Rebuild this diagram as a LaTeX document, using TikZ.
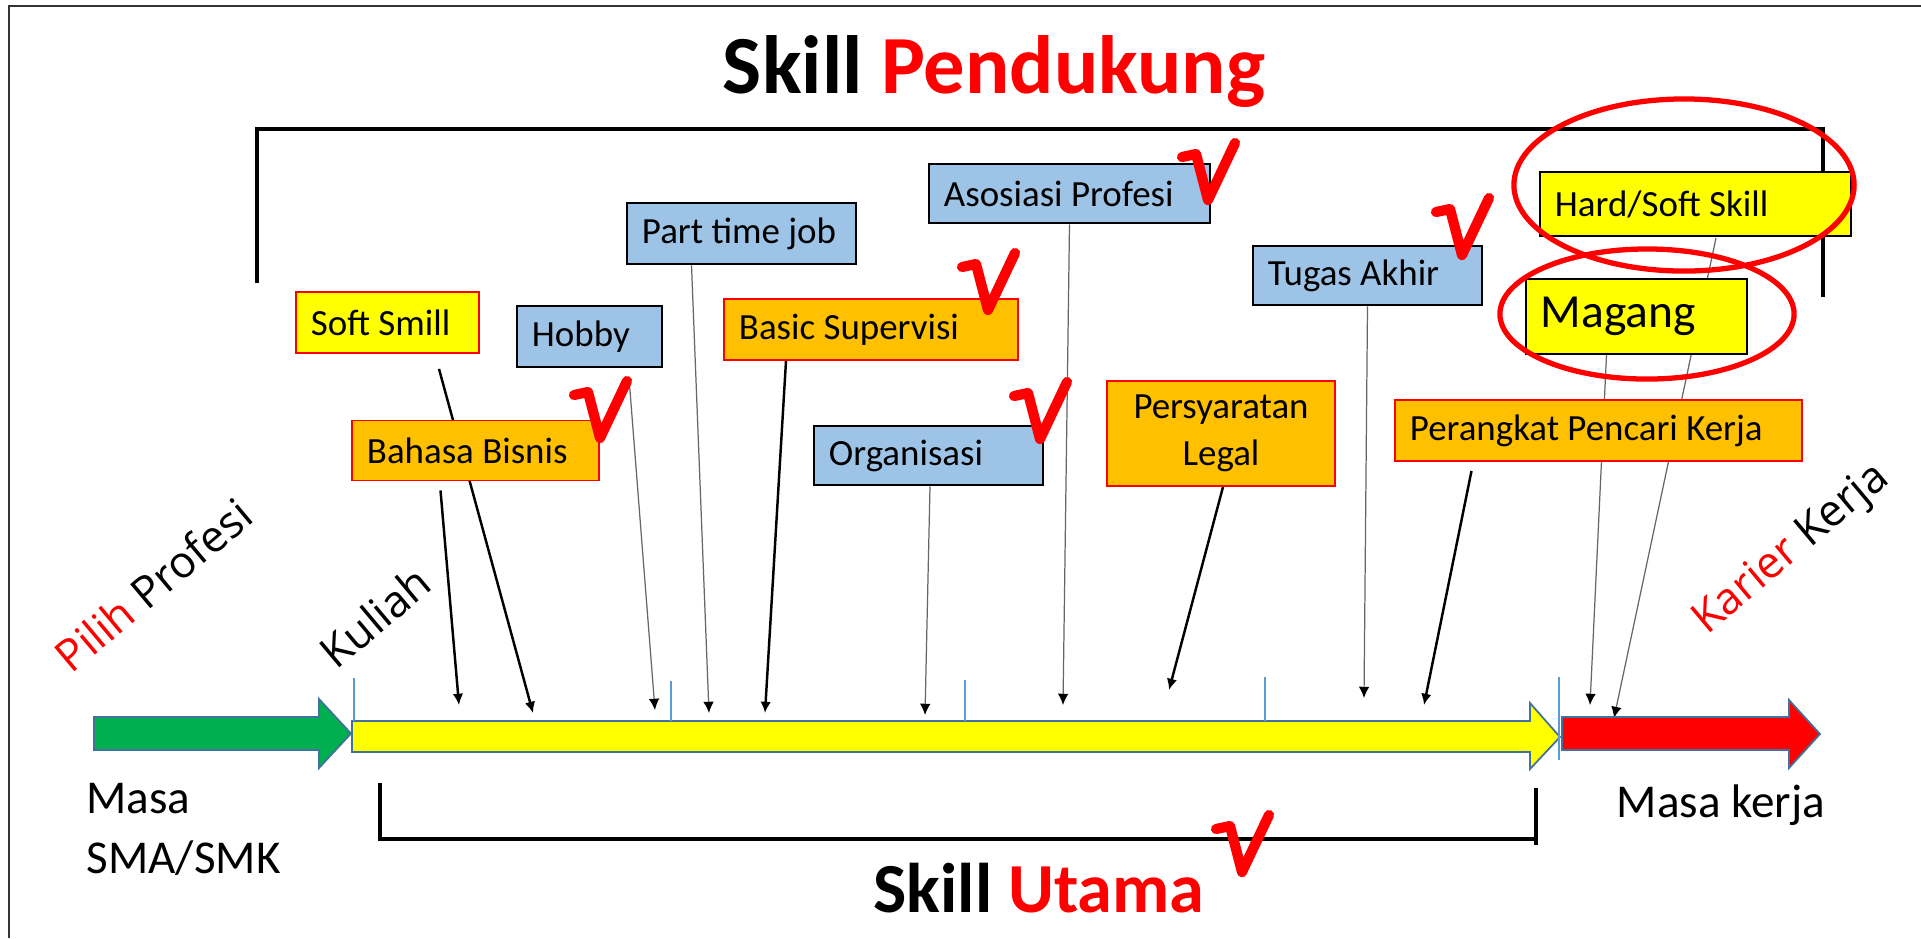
\documentclass[tikz,border=0pt]{standalone}
\usepackage{fontspec}
\setmainfont{Carlito}
\newfontfamily\miring{Open Sans}
\usepackage{xcolor}
\usetikzlibrary{arrows.meta, positioning, calc, backgrounds}

\definecolor{biru}{HTML}{9DC3E6}
\definecolor{oranye}{HTML}{FFC000}
\definecolor{kuning}{HTML}{FFFF00}
\definecolor{hijau}{HTML}{00B050}
\definecolor{merah}{HTML}{FF0000}
\definecolor{tepi}{HTML}{41719C}
\definecolor{garisbiru}{HTML}{5B9BD5}

\tikzset{
  kotak/.style={draw, minimum height=0.61cm, inner xsep=0.15cm, inner ysep=0pt, align=flush left, font=\fontsize{10.5}{13.4}\selectfont},
  kotakbiru/.style={kotak, fill=biru, draw=black, line width=0.7pt},
  kotakoranye/.style={kotak, fill=oranye, draw=merah, line width=0.5pt},
  kotakkuning/.style={kotak, fill=kuning, draw=merah, line width=0.5pt},
  panah/.style={-{Latex[length=3.2pt,width=3pt]}, line width=0.7pt},
  panahtipis/.style={-{Latex[length=3.2pt,width=3pt,color=black]}, line width=0.35pt, draw=black!60},
  kurung/.style={line width=1.1pt},
  fase/.style={draw=tepi, line width=0.5pt},
  miring/.style={rotate=40, font=\miring\fontsize{12.5}{15}\selectfont},
  cek/.pic={\draw[merah, line width=2.9pt, line join=round, line cap=round] (-26,-46) -- (-12,-49) -- (0,-3) -- (27,-60);}
}

\begin{document}
\begin{tikzpicture}[x=0.01cm, y=-0.01cm]
    \useasboundingbox (0,0) rectangle (1921,938);
    \draw[black!80, line width=0.6pt] (9,938) -- (9,6) -- (1921,6);

    % judul
    \node[anchor=base, font=\bfseries\fontsize{23.5}{28}\selectfont] (judul) at (994,93) {Skill \textcolor{merah}{Pendukung}};
    \node[anchor=base, font=\bfseries\fontsize{20}{24}\selectfont] (utama) at (1039,912) {Skill \textcolor{merah}{Utama}};

    % kotak skill pendukung
    \node[kotakkuning, text width=1.53cm] (soft) at (387.5,322.5) {Soft Smill};
    \node[kotakbiru, text width=1.15cm] (hobby) at (589.5,336.5) {Hobby};
    \node[kotakbiru, text width=1.99cm] (parttime) at (741.5,233.5) {Part time job};
    \node[kotakoranye, text width=2.64cm] (basic) at (871,329.5) {Basic Supervisi};
    \node[kotakoranye, text width=2.17cm, minimum height=0.60cm] (bahasa) at (475.5,450.5) {Bahasa Bisnis};
    \node[kotakbiru, text width=1.99cm, minimum height=0.59cm] (organisasi) at (928.5,455.5) {Organisasi};
    \node[kotakbiru, text width=2.51cm, minimum height=0.59cm] (asosiasi) at (1069.5,193.5) {Asosiasi Profesi};
    \node[kotakbiru, text width=1.99cm, minimum height=0.59cm] (tugas) at (1367.5,275.5) {Tugas Akhir};
    \node[kotakoranye, text width=1.98cm, minimum height=1.05cm, align=center] (syarat) at (1221,433.5) {Persyaratan\\Legal};
    \node[kotakoranye, text width=3.77cm] (perangkat) at (1598.5,430.5) {Perangkat Pencari Kerja};
    \node[kotakkuning, draw=black, text width=2.81cm, minimum height=0.64cm] (hardsoft) at (1695.5,204) {Hard/Soft Skill};
    \node[kotakkuning, draw=black, text width=1.91cm, minimum height=0.75cm, font=\fontsize{13.5}{16}\selectfont] (magang) at (1636.5,316.5) {Magang};

    % fase
    \draw[fase, fill=hijau] (94,717) -- (319,717) -- (319,699) -- (351,733.5) -- (319,768) -- (319,750) -- (94,750) -- cycle;
    \draw[fase, fill=kuning] (352,721) -- (1530,721) -- (1530,703) -- (1560,737) -- (1530,769) -- (1530,752) -- (352,752) -- cycle;
    \draw[fase, fill=merah] (1562,717) -- (1789,717) -- (1789,700) -- (1820,734) -- (1789,768) -- (1789,750) -- (1562,750) -- cycle;
    \draw[garisbiru, line width=0.4pt] (354,678) -- (354,721) (671,681) -- (671,721) (965,680) -- (965,721) (1265,677) -- (1265,721) (1559,677) -- (1559,760);

    \node[miring] (pilih) at (153,585) {\textcolor{merah}{Pilih} Profesi};
    \node[miring] (kuliah) at (375,617) {Kuliah};
    \node[miring] (karier) at (1792,550) {\textcolor{merah}{Karier} Kerja};
    \node[anchor=north west, inner sep=0pt, align=left, font=\fontsize{13.4}{17}\selectfont] (sma) at (86,783) {Masa\\SMA/SMK};
    \node[anchor=base west, inner sep=0pt, font=\fontsize{13.4}{17}\selectfont] (kerja) at (1616,817) {Masa kerja};

    % titik tujuan panah
    \coordinate (tBahasa) at (459,705);
    \coordinate (tSoft) at (533,713);
    \coordinate (tHobby) at (655,710);
    \coordinate (tPart) at (709,713);
    \coordinate (tBasic) at (765,713);
    \coordinate (tOrg) at (925,715);
    \coordinate (tAsos) at (1063,705);
    \coordinate (tSyarat) at (1169,690);
    \coordinate (tTugas) at (1364,698);
    \coordinate (tPerangkat) at (1424,705);
    \coordinate (tMagang) at (1590,705);
    \coordinate (tHard) at (1614,718);

    \begin{scope}[on background layer]
        \fill[white] (0,0) rectangle (1921,938);
        \draw[kurung] (257,283) -- (257,129) -- (1823,129) -- (1823,297);
        \draw[kurung] (380,783) -- (380,839) -- (1536,839);
        \draw[kurung] (1536,788) -- (1536,845);
        \draw[panah] ($(bahasa.south)+(-35,9)$) -- (tBahasa);
        \draw[panah] ($(soft.south)+(51.5,15)$) -- (tSoft);
        \draw[panahtipis] ($(hobby.south)+(40,16)$) -- (tHobby);
        \draw[panahtipis] ($(parttime.south)+(-50,0)$) -- (tPart);
        \draw[panah] ($(basic.south)+(-85,0)$) -- (tBasic);
        \draw[panahtipis] ($(organisasi.south)+(1.5,0)$) -- (tOrg);
        \draw[panahtipis] (asosiasi.south) -- (tAsos);
        \draw[panah] ($(syarat.south)+(2,0)$) -- (tSyarat);
        \draw[panahtipis] (tugas.south) -- (tTugas);
        \draw[panah] ($(perangkat.south)+(-127,9)$) -- (tPerangkat);
        \draw[panahtipis] ($(magang.south)+(-30,0)$) -- (tMagang);
        \draw[panahtipis] ($(hardsoft.south)+(20.5,1)$) -- (tHard);
    \end{scope}

    % tanda cek
    \pic at (600,441) {cek};
    \pic at (988,313) {cek};
    \pic at (1208,203) {cek};
    \pic at (1462,258) {cek};
    \pic at (1040,442) {cek};
    \pic at (1242,875) {cek};

    \draw[merah, line width=1.5pt] (1684,185) ellipse [x radius=1.70cm, y radius=0.86cm];
    \draw[merah, line width=1.5pt] (1647,314) ellipse [x radius=1.47cm, y radius=0.65cm];
\end{tikzpicture}
\end{document}
